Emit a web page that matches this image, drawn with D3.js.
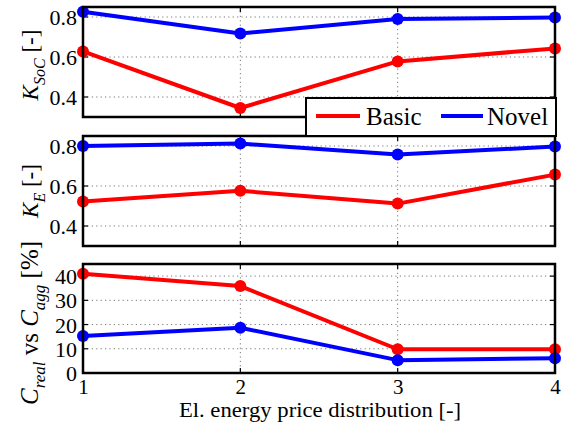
<!DOCTYPE html>
<html>
<head>
<meta charset="utf-8">
<script src="https://cdn.jsdelivr.net/npm/d3@7"></script>
<style>
  html, body { margin: 0; padding: 0; background: #fff; }
  svg { display: block; }
  text { font-family: "Liberation Serif", "Times New Roman", serif; fill: #000; }
</style>
</head>
<body>
<svg id="chart" width="565" height="428" font-family="Liberation Serif, Times New Roman, serif"></svg>
<script>
// Price distribution cases on the shared x axis
const categories = [1, 2, 3, 4];
const xTickLabels = ["1", "2", "3", "4"];

// K_SoC per case
const ksocBasic = [0.628, 0.345, 0.578, 0.643];
const ksocNovel = [0.826, 0.718, 0.790, 0.797];

// K_E per case
const keBasic = [0.522, 0.576, 0.512, 0.657];
const keNovel = [0.800, 0.812, 0.758, 0.797];

// Cost deviation C_real vs C_agg [%]
const costBasic = [41.0, 35.9, 9.8, 9.8];
const costNovel = [15.3, 18.7, 5.3, 6.1];

const kTicks = [0.4, 0.6, 0.8];
const costTicks = [0, 10, 20, 30, 40];

const seriesNames = ["Basic", "Novel"];
const seriesColors = ["#ff0000", "#0000ff"];

const serif = '"Liberation Serif", "Times New Roman", serif';
const svg = d3.select("#chart");
const left = 83, right = 555;

const x = d3.scaleLinear().domain([1, 4]).range([left, right]);

const panels = [
  { top: 7,   bottom: 117, domain: [0.3, 0.85], ticks: kTicks, fmt: d3.format(".1f"),
    data: [ksocBasic, ksocNovel], showX: false },
  { top: 136, bottom: 246, domain: [0.3, 0.85], ticks: kTicks, fmt: d3.format(".1f"),
    data: [keBasic, keNovel], showX: false },
  { top: 264, bottom: 373, domain: [0, 45], ticks: costTicks, fmt: d3.format("d"),
    data: [costBasic, costNovel], showX: true }
];

panels.forEach(p => {
  const y = d3.scaleLinear().domain(p.domain).range([p.bottom, p.top]);
  const g = svg.append("g");

  // dotted grid
  g.selectAll(".hgrid").data(p.ticks).join("line")
    .attr("x1", left).attr("x2", right)
    .attr("y1", d => y(d)).attr("y2", d => y(d))
    .attr("stroke", "#777").attr("stroke-width", 1).attr("stroke-dasharray", "1.2,3.2");
  g.selectAll(".vgrid").data(categories).join("line")
    .attr("x1", d => x(d)).attr("x2", d => x(d))
    .attr("y1", p.top).attr("y2", p.bottom)
    .attr("stroke", "#777").attr("stroke-width", 1).attr("stroke-dasharray", "1.2,3.2");

  // inward tick marks on all four sides
  const tl = 5;
  p.ticks.forEach(t => {
    g.append("line").attr("x1", left).attr("x2", left + tl).attr("y1", y(t)).attr("y2", y(t))
      .attr("stroke", "#000").attr("stroke-width", 1.2);
    g.append("line").attr("x1", right).attr("x2", right - tl).attr("y1", y(t)).attr("y2", y(t))
      .attr("stroke", "#000").attr("stroke-width", 1.2);
  });
  categories.forEach(c => {
    g.append("line").attr("x1", x(c)).attr("x2", x(c)).attr("y1", p.bottom).attr("y2", p.bottom - tl)
      .attr("stroke", "#000").attr("stroke-width", 1.2);
    g.append("line").attr("x1", x(c)).attr("x2", x(c)).attr("y1", p.top).attr("y2", p.top + tl)
      .attr("stroke", "#000").attr("stroke-width", 1.2);
  });

  // y tick labels
  const yAxis = d3.axisLeft(y).tickValues(p.ticks).tickFormat(p.fmt).tickSize(0).tickPadding(6);
  const ya = g.append("g").attr("transform", `translate(${left},0)`).call(yAxis)
    .attr("font-family", null);
  ya.select(".domain").remove();
  ya.selectAll("text").style("font-family", serif)
    .style("font-size", "22px").attr("dy", "0.34em");

  if (p.showX) {
    const xAxis = d3.axisBottom(x).tickValues(categories)
      .tickFormat((d, i) => xTickLabels[i]).tickSize(0).tickPadding(6);
    const xa = g.append("g").attr("transform", `translate(0,${p.bottom})`).call(xAxis)
      .attr("font-family", null);
    xa.select(".domain").remove();
    xa.selectAll("text").style("font-family", serif)
      .style("font-size", "21px");
  }

  // series lines and markers
  const line = d3.line().x((d, i) => x(categories[i])).y(d => y(d));
  p.data.forEach((vals, si) => {
    g.append("path").datum(vals).attr("d", line)
      .attr("fill", "none").attr("stroke", seriesColors[si]).attr("stroke-width", 4)
      .attr("stroke-linejoin", "round");
    g.selectAll(null).data(vals).join("circle")
      .attr("cx", (d, i) => x(categories[i])).attr("cy", d => y(d)).attr("r", 6)
      .attr("fill", seriesColors[si]);
  });

  // axes box
  g.append("rect").attr("x", left).attr("y", p.top)
    .attr("width", right - left).attr("height", p.bottom - p.top)
    .attr("fill", "none").attr("stroke", "#000").attr("stroke-width", 2.5);
});

// y-axis titles with italic symbols and subscripts
function yTitle(cy, size, subSize, parts) {
  const t = svg.append("text")
    .attr("transform", `translate(38,${cy}) rotate(-90)`)
    .attr("text-anchor", "middle").style("font-family", serif).style("font-size", size + "px");
  let shifted = 0;
  parts.forEach(pt => {
    const ts = t.append("tspan").text(pt.t);
    if (pt.it) ts.style("font-style", "italic");
    const target = pt.sub ? 7 : 0;
    if (target !== shifted) { ts.attr("dy", target - shifted); shifted = target; }
    if (pt.sub) ts.style("font-size", subSize + "px");
  });
}
yTitle(65, 23, 16, [{ t: "K", it: true }, { t: "SoC", it: true, sub: true }, { t: " [-]" }]);
yTitle(191, 23, 16, [{ t: "K", it: true }, { t: "E", it: true, sub: true }, { t: " [-]" }]);
yTitle(323, 25, 17, [{ t: "C", it: true }, { t: "real", it: true, sub: true }, { t: " vs " },
             { t: "C", it: true }, { t: "agg", it: true, sub: true }, { t: " [%]" }]);

// x-axis title
svg.append("text").attr("transform", "translate(320,417) scale(1.08,1)")
  .attr("text-anchor", "middle").style("font-family", serif)
  .style("font-size", "21px").text("El. energy price distribution [-]");

// legend
const lg = svg.append("g");
lg.append("rect").attr("x", 306).attr("y", 98).attr("width", 250).attr("height", 38)
  .attr("fill", "#fff").attr("stroke", "#000").attr("stroke-width", 2);
const legendX = [[316, 360, 366], [441, 483, 487]];
seriesNames.forEach((name, i) => {
  lg.append("line").attr("x1", legendX[i][0]).attr("x2", legendX[i][1])
    .attr("y1", 116).attr("y2", 116)
    .attr("stroke", seriesColors[i]).attr("stroke-width", 4);
  lg.append("text").attr("x", legendX[i][2]).attr("y", 124.5)
    .style("font-family", serif).style("font-size", "25px").text(name);
});
</script>
</body>
</html>
